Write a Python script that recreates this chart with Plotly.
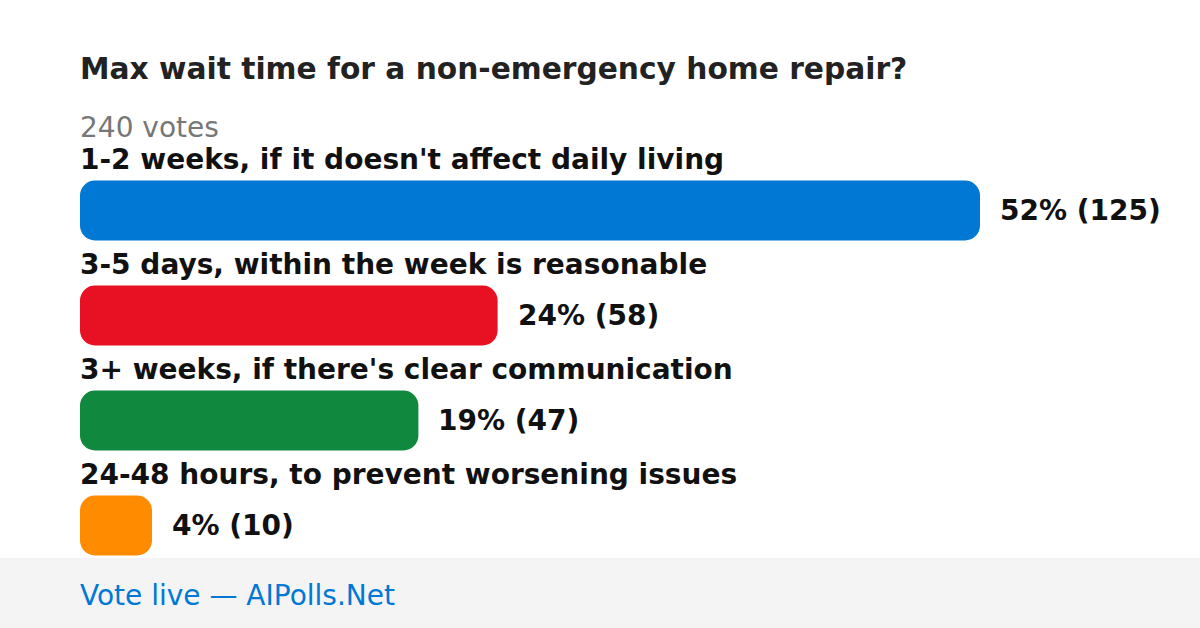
import plotly.graph_objects as go

title = "Max wait time for a non-emergency home repair?"
total_label = "240 votes"
categories = [
    "1-2 weeks, if it doesn't affect daily living",
    "3-5 days, within the week is reasonable",
    "3+ weeks, if there's clear communication",
    "24-48 hours, to prevent worsening issues",
]
votes = [125, 58, 47, 10]
percents = [52, 24, 19, 4]
colors = ["#0078d4", "#e81123", "#10893e", "#ff8c00"]
footer = "Vote live — AIPolls.Net"

W, H = 1200, 628
L, R, T, B = 80, 0, 158, 50
plot_w = W - L - R
plot_h = H - T - B
xmax = max(votes) * plot_w / 900.0

ypos = list(range(len(categories)))

fig = go.Figure()
fig.add_trace(go.Bar(
    x=votes, base=[0] * len(votes), y=ypos, orientation="h",
    marker=dict(color=colors, cornerradius=15, line=dict(width=0)),
    hoverinfo="skip",
))

def py2paper(py):
    return (H - B - py) / plot_h

FONT = "DejaVu Sans"
common = dict(showarrow=False, borderpad=0, borderwidth=0)
annotations = []
annotations.append(dict(text="<b>" + title + "</b>", xref="paper", yref="paper",
                        x=0, y=py2paper(68), xanchor="left", yanchor="middle",
                        font=dict(family=FONT, size=29.7, color="#222222"), **common))
annotations.append(dict(text=total_label, xref="paper", yref="paper",
                        x=0, y=py2paper(127), xanchor="left", yanchor="middle",
                        font=dict(family=FONT, size=28, color="#777777"), **common))
for i, (c, v, p) in enumerate(zip(categories, votes, percents)):
    annotations.append(dict(text="<b>" + c + "</b>", xref="paper", yref="y",
                            x=0, y=i, yshift=51, xanchor="left", yanchor="middle",
                            font=dict(family=FONT, size=28, color="#111111"), **common))
    annotations.append(dict(text="<b>%d%% (%d)</b>" % (p, v), xref="x", yref="y",
                            x=v, y=i, xshift=20, xanchor="left", yanchor="middle",
                            font=dict(family=FONT, size=28, color="#111111"), **common))
annotations.append(dict(text=footer, xref="paper", yref="paper",
                        x=0, y=py2paper(595), xanchor="left", yanchor="middle",
                        font=dict(family=FONT, size=28, color="#0078d4"), **common))

fig.update_layout(
    width=W, height=H,
    margin=dict(l=L, r=R, t=T, b=B, pad=0),
    paper_bgcolor="#ffffff", plot_bgcolor="rgba(0,0,0,0)",
    showlegend=False,
    bargap=1 - 60 / 105,
    xaxis=dict(range=[0, xmax], visible=False, fixedrange=True),
    yaxis=dict(range=[len(categories) - 0.5, -0.5], visible=False, fixedrange=True),
    annotations=annotations,
    shapes=[dict(type="rect", xref="paper", yref="paper",
                 x0=-L / plot_w, x1=1 + R / plot_w,
                 y0=py2paper(H), y1=py2paper(558),
                 fillcolor="#f4f4f4", line=dict(width=0), layer="below")],
)

fig.write_html("out.html", config={"displayModeBar": False},
               post_script="document.body.style.margin='0';document.body.style.overflow='hidden';")
